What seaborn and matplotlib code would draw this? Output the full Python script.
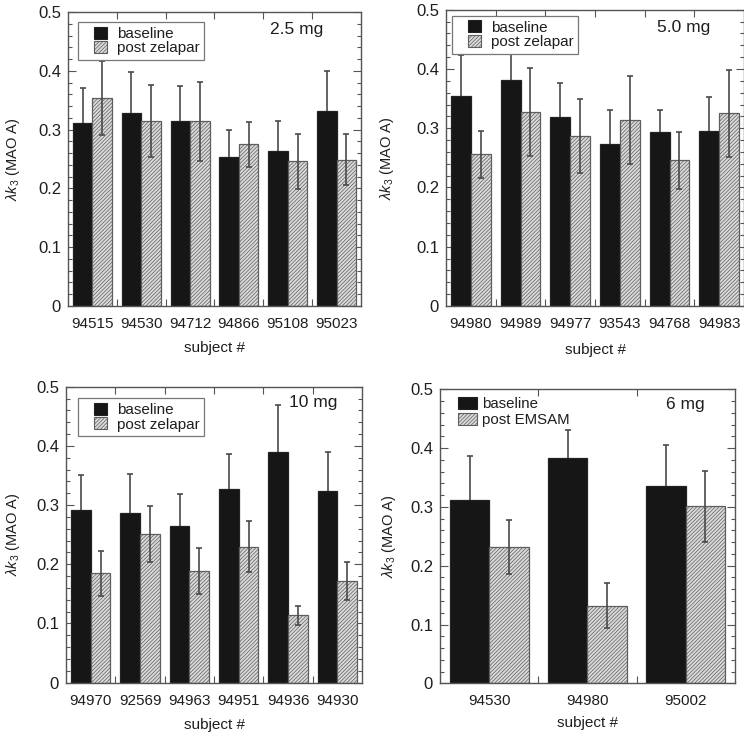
import numpy as np
import pandas as pd
import matplotlib
matplotlib.use("Agg")
import matplotlib.pyplot as plt
import matplotlib.patches as mpatches
from matplotlib.legend_handler import HandlerPatch
from matplotlib.ticker import MultipleLocator, FixedLocator, FuncFormatter
import seaborn as sns

# ---------------- data ----------------
subjects_25 = ["94515", "94530", "94712", "94866", "95108", "95023"]
base_25 = [0.312, 0.329, 0.314, 0.254, 0.264, 0.332]
base_err_25 = [0.058, 0.069, 0.060, 0.046, 0.051, 0.068]
post_25 = [0.354, 0.314, 0.314, 0.275, 0.246, 0.249]
post_err_25 = [0.063, 0.061, 0.067, 0.038, 0.047, 0.044]

subjects_50 = ["94980", "94989", "94977", "93543", "94768", "94983"]
base_50 = [0.355, 0.382, 0.319, 0.273, 0.294, 0.296]
base_err_50 = [0.068, 0.055, 0.057, 0.058, 0.037, 0.057]
post_50 = [0.256, 0.327, 0.287, 0.314, 0.246, 0.325]
post_err_50 = [0.040, 0.074, 0.062, 0.074, 0.048, 0.073]

subjects_10 = ["94970", "92569", "94963", "94951", "94936", "94930"]
base_10 = [0.292, 0.286, 0.265, 0.327, 0.389, 0.324]
base_err_10 = [0.058, 0.066, 0.053, 0.060, 0.080, 0.065]
post_10 = [0.185, 0.251, 0.188, 0.230, 0.114, 0.172]
post_err_10 = [0.038, 0.048, 0.039, 0.043, 0.016, 0.032]

subjects_6 = ["94530", "94980", "95002"]
base_6 = [0.312, 0.383, 0.336]
base_err_6 = [0.075, 0.047, 0.069]
post_6 = [0.232, 0.132, 0.301]
post_err_6 = [0.046, 0.038, 0.060]

doses = ["2.5 mg", "5.0 mg", "10 mg", "6 mg"]
post_labels = ["post zelapar", "post zelapar", "post zelapar", "post EMSAM"]
base_label = "baseline"
y_ticks = [0, 0.1, 0.2, 0.3, 0.4, 0.5]

# ---------------- style ----------------
sns.set_style("ticks")
plt.rcParams["font.family"] = ["Liberation Sans", "DejaVu Sans"]
plt.rcParams["mathtext.fontset"] = "custom"
plt.rcParams["mathtext.rm"] = "Liberation Sans"
plt.rcParams["mathtext.it"] = "Liberation Sans:italic"
plt.rcParams["hatch.linewidth"] = 0.5

BLACK = "#161616"
LIGHT = "#dadada"
HATCH_EDGE = "#5e5e5e"
HATCH = "/////////"
ERR = "#4a4a4a"
SPINE = "#555555"
TEXT = "#1e1e1e"

fig = plt.figure(figsize=(7.44, 7.35), dpi=100)

panels = [
    dict(subjects=subjects_25, base=base_25, berr=base_err_25, post=post_25, perr=post_err_25,
         rect=[0.0914, 0.5837, 0.3938, 0.400], ylab_x=-0.188, xlab_y=-0.143,
         dose_xy=(0.78, 0.939), leg_anchor=(0.034, 0.966), frame=True),
    dict(subjects=subjects_50, base=base_50, berr=base_err_50, post=post_50, perr=post_err_50,
         rect=[0.5995, 0.5837, 0.4005, 0.403], ylab_x=-0.198, xlab_y=-0.148,
         dose_xy=(0.797, 0.939), leg_anchor=(0.02, 0.98), frame=True),
    dict(subjects=subjects_10, base=base_10, berr=base_err_10, post=post_10, perr=post_err_10,
         rect=[0.0887, 0.0712, 0.3980, 0.4027], ylab_x=-0.180, xlab_y=-0.143,
         dose_xy=(0.835, 0.945), leg_anchor=(0.04, 0.961), frame=True),
    dict(subjects=subjects_6, base=base_6, berr=base_err_6, post=post_6, perr=post_err_6,
         rect=[0.5914, 0.0703, 0.3965, 0.400], ylab_x=-0.173, xlab_y=-0.135,
         dose_xy=(0.83, 0.947), leg_anchor=(0.061, 0.974), frame=False),
]


def right_square(legend, orig_handle, xdescent, ydescent, width, height, fontsize):
    s = height * 1.08
    return mpatches.Rectangle((-xdescent + width - s, -ydescent), s, height)


for i, p in enumerate(panels):
    ax = fig.add_axes(p["rect"])
    n = len(p["subjects"])
    df = pd.DataFrame({
        "subject": p["subjects"] * 2,
        "value": p["base"] + p["post"],
        "condition": [base_label] * n + [post_labels[i]] * n,
    })
    sns.barplot(data=df, x="subject", y="value", hue="condition",
                order=p["subjects"], hue_order=[base_label, post_labels[i]],
                palette=[BLACK, LIGHT], saturation=1, width=0.8,
                errorbar=None, legend=False, ax=ax, linewidth=0.9,
                edgecolor=BLACK)
    base_cont, post_cont = ax.containers[0], ax.containers[1]
    for bar in base_cont.patches:
        bar.set_edgecolor("#222222")
    for bar in post_cont.patches:
        bar.set_facecolor(LIGHT)
        bar.set_edgecolor(HATCH_EDGE)
        bar.set_hatch(HATCH)
        bar.set_linewidth(0.9)

    bx = [b.get_x() + b.get_width() / 2 for b in base_cont.patches]
    px = [b.get_x() + b.get_width() / 2 for b in post_cont.patches]
    ax.errorbar(bx, p["base"], yerr=p["berr"], fmt="none", ecolor=ERR,
                elinewidth=1.2, capsize=2, capthick=1.2, zorder=0.5)
    ax.errorbar(px, p["post"], yerr=p["perr"], fmt="none", ecolor=ERR,
                elinewidth=1.2, capsize=2, capthick=1.2, zorder=3)

    ax.set_ylim(0, 0.5)
    ax.set_xlim(-0.5, n - 0.5)
    ax.yaxis.set_major_locator(FixedLocator(y_ticks))
    ax.yaxis.set_minor_locator(MultipleLocator(0.02))
    ax.yaxis.set_major_formatter(FuncFormatter(lambda v, pos: "0" if abs(v) < 1e-9 else f"{v:.1f}"))
    ax.xaxis.set_minor_locator(FixedLocator(np.arange(0.5, n - 0.5, 1.0)))

    for s in ax.spines.values():
        s.set_visible(True)
        s.set_color(SPINE)
        s.set_linewidth(1.0)
    ax.tick_params(axis="both", which="both", direction="in", top=True, right=True,
                   color=SPINE, width=0.8)
    ax.tick_params(axis="y", which="major", length=6, labelsize=12, pad=5, labelcolor=TEXT)
    ax.tick_params(axis="y", which="minor", length=3)
    ax.tick_params(axis="x", which="major", length=0, labelsize=11, pad=8, labelcolor=TEXT)
    ax.tick_params(axis="x", which="minor", length=5)

    ax.set_xlabel("subject #", fontsize=11, color=TEXT)
    ax.xaxis.set_label_coords(0.5, p["xlab_y"])
    ax.xaxis.label.set_va("center")
    ax.set_ylabel(r"$\lambda k_3$ (MAO A)", fontsize=10.5, color=TEXT)
    ax.yaxis.set_label_coords(p["ylab_x"], 0.5)
    ax.yaxis.label.set_va("center")

    ax.text(p["dose_xy"][0], p["dose_xy"][1], doses[i], transform=ax.transAxes,
            ha="center", va="center", fontsize=12.5, color=TEXT)

    handles = [
        mpatches.Patch(facecolor=BLACK, edgecolor="#222222", linewidth=0.8),
        mpatches.Patch(facecolor=LIGHT, edgecolor=HATCH_EDGE, hatch=HATCH, linewidth=0.8),
    ]
    labels = [base_label, post_labels[i]]
    if p["frame"]:
        leg = ax.legend(handles, labels, loc="upper left", bbox_to_anchor=p["leg_anchor"],
                        borderaxespad=0, frameon=True, fancybox=False, framealpha=1,
                        edgecolor="#777777", fontsize=11, handlelength=1.6,
                        handleheight=0.85, handletextpad=0.65, labelspacing=0.0,
                        borderpad=0.3,
                        handler_map={mpatches.Patch: HandlerPatch(patch_func=right_square)})
        leg.get_frame().set_linewidth(0.9)
    else:
        leg = ax.legend(handles, labels, loc="upper left", bbox_to_anchor=p["leg_anchor"],
                        borderaxespad=0, frameon=False, fontsize=10.8, handlelength=1.3,
                        handleheight=0.85, handletextpad=0.3, labelspacing=0.1,
                        borderpad=0)
    leg.set_zorder(5)
    for t in leg.get_texts():
        t.set_color(TEXT)

fig.savefig("out.png", dpi=100)
